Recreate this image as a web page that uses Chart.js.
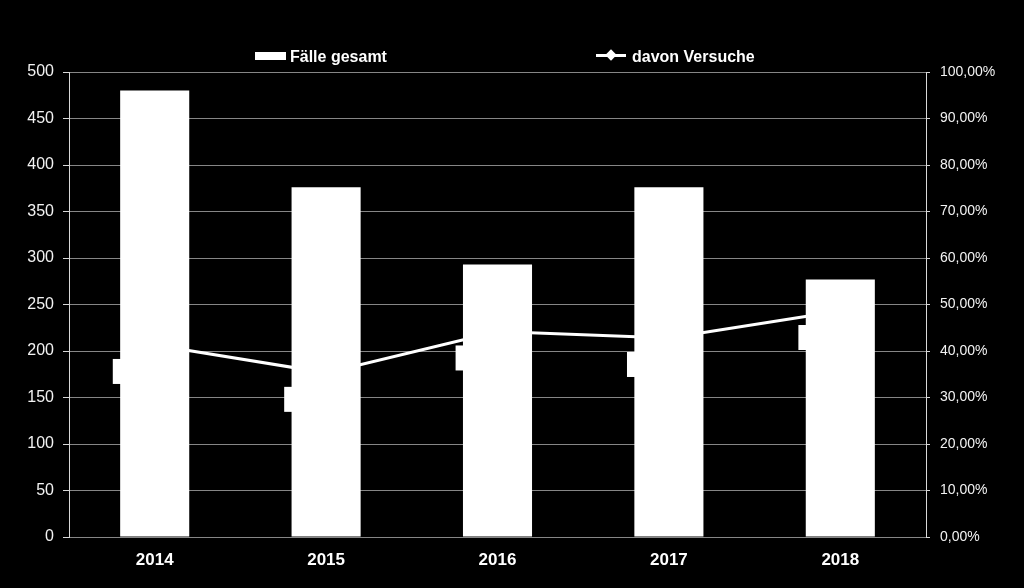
<!DOCTYPE html>
<html>
<head>
<meta charset="utf-8">
<script src="https://cdn.jsdelivr.net/npm/chart.js@4"></script>
<style>
  html, body { margin: 0; padding: 0; background: #000; }
  #wrap { position: relative; width: 1024px; height: 588px; }
  .leg { position: absolute; top: 48px; font: bold 16px "Liberation Sans", Arial, sans-serif; color: #fff; white-space: nowrap; line-height: 18px; }
  .kasten { display: inline-block; width: 31px; height: 8px; background: #fff; vertical-align: middle; margin-right: 4px; position: relative; top: -2px; }
  .linie { display: inline-block; width: 30px; height: 3px; background: #fff; vertical-align: middle; margin-right: 6px; position: relative; top: -2px; }
  .linie::after { content: ""; position: absolute; left: 11px; top: -3px; width: 8px; height: 8px; background: #fff; transform: rotate(45deg); }
</style>
</head>
<body>
<div id="wrap">
  <canvas id="chart" width="1024" height="588"></canvas>
  <div class="leg" style="left:255px"><span class="kasten"></span>Fälle gesamt</div>
  <div class="leg" style="left:596px"><span class="linie"></span>davon Versuche</div>
</div>
<script>
// Daten
const jahre = ["2014", "2015", "2016", "2017", "2018"];
const faelleGesamt = [480, 376, 293, 376, 277];
const davonVersuche = [41.3, 35.3, 44.2, 42.8, 48.6]; // in %

const schrift = '"Liberation Sans", Arial, sans-serif';

function prozent(v) {
    return v.toFixed(2).replace(".", ",") + "%";
}

// weisse Beschriftungskaesten der Linie (liegen hinter den Saeulen)
const labelKaesten = {
    id: "labelKaesten",
    beforeDatasetsDraw(chart) {
        const ctx = chart.ctx;
        const meta = chart.getDatasetMeta(1);
        ctx.save();
        ctx.font = "10px " + schrift;
        ctx.textBaseline = "middle";
        meta.data.forEach((p, i) => {
            const txt = prozent(davonVersuche[i]);
            const w = ctx.measureText(txt).width + 4;
            const x = p.x - 4 - w;
            const y = p.y + 14;
            ctx.fillStyle = "#fff";
            ctx.fillRect(x, y, w, 25);
            ctx.fillText(txt, x + 2, y + 12);
        });
        ctx.restore();
    }
};

new Chart(document.getElementById("chart"), {
    type: "bar",
    data: {
        labels: jahre,
        datasets: [
            {
                label: "Fälle gesamt",
                data: faelleGesamt,
                backgroundColor: "#fff",
                barPercentage: 0.403,
                categoryPercentage: 1,
                yAxisID: "y",
                order: 1
            },
            {
                type: "line",
                label: "davon Versuche",
                data: davonVersuche,
                borderColor: "#fff",
                borderWidth: 3,
                pointStyle: "rectRot",
                pointRadius: 5,
                pointBackgroundColor: "#fff",
                pointBorderColor: "#fff",
                yAxisID: "y1",
                tension: 0,
                order: 2
            }
        ]
    },
    options: {
        responsive: false,
        animation: false,
        layout: { padding: { top: 72, left: 0, right: 0, bottom: 0 } },
        plugins: {
            legend: { display: false },
            tooltip: { enabled: false }
        },
        scales: {
            x: {
                grid: { display: false },
                border: { display: false },
                ticks: {
                    color: "#fff",
                    font: { family: schrift, size: 17, weight: "bold" },
                    padding: 5
                },
                afterFit: s => { s.height = 51; }
            },
            y: {
                position: "left",
                min: 0,
                max: 500,
                ticks: {
                    stepSize: 50,
                    color: "#f2f2f2",
                    font: { family: schrift, size: 16 },
                    padding: 9
                },
                grid: { color: "#868686", tickColor: "#d9d9d9", tickLength: 6 },
                border: { color: "#d9d9d9" },
                afterFit: s => { s.width = 69; }
            },
            y1: {
                position: "right",
                min: 0,
                max: 100,
                ticks: {
                    stepSize: 10,
                    color: "#f2f2f2",
                    font: { family: schrift, size: 14 },
                    padding: 10,
                    callback: v => prozent(v)
                },
                grid: { drawOnChartArea: false, tickColor: "#d9d9d9", tickLength: 4 },
                border: { color: "#d9d9d9" },
                afterFit: s => { s.width = 98; }
            }
        }
    },
    plugins: [labelKaesten]
});
</script>
</body>
</html>
